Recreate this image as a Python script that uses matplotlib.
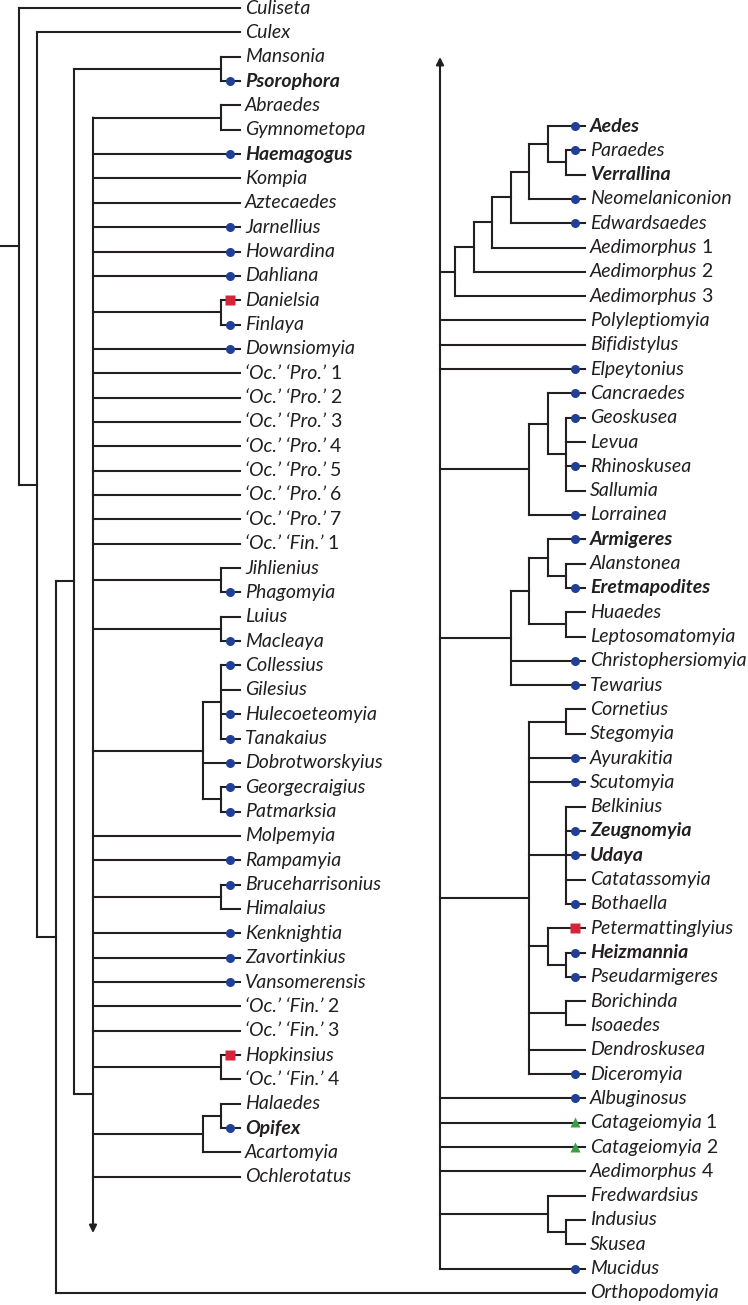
import matplotlib
matplotlib.use("Agg")
import matplotlib.pyplot as plt
from matplotlib.collections import LineCollection

plt.rcParams['font.family'] = ['Lato', 'DejaVu Sans']

# tree topology: the Aedini polytomy is split over two columns
AEDINI_LEFT = [
    ["Abraedes", "Gymnometopa"],
    "Haemagogus", "Kompia", "Aztecaedes", "Jarnellius", "Howardina", "Dahliana",
    ["Danielsia", "Finlaya"],
    "Downsiomyia",
    "‘Oc.’ ‘Pro.’ 1", "‘Oc.’ ‘Pro.’ 2", "‘Oc.’ ‘Pro.’ 3", "‘Oc.’ ‘Pro.’ 4",
    "‘Oc.’ ‘Pro.’ 5", "‘Oc.’ ‘Pro.’ 6", "‘Oc.’ ‘Pro.’ 7", "‘Oc.’ ‘Fin.’ 1",
    ["Jihlienius", "Phagomyia"],
    ["Luius", "Macleaya"],
    [["Collessius", "Gilesius", "Hulecoeteomyia", "Tanakaius"],
     "Dobrotworskyius", ["Georgecraigius", "Patmarksia"]],
    "Molpemyia", "Rampamyia",
    ["Bruceharrisonius", "Himalaius"],
    "Kenknightia", "Zavortinkius", "Vansomerensis", "‘Oc.’ ‘Fin.’ 2", "‘Oc.’ ‘Fin.’ 3",
    ["Hopkinsius", "‘Oc.’ ‘Fin.’ 4"],
    [["Halaedes", "Opifex"], "Acartomyia"],
    "Ochlerotatus",
]

AEDINI_RIGHT = [
    [[[[[["Aedes", ["Paraedes", "Verrallina"]], "Neomelaniconion"], "Edwardsaedes"],
        "Aedimorphus 1"], "Aedimorphus 2"], "Aedimorphus 3"],
    "Polyleptiomyia", "Bifidistylus", "Elpeytonius",
    [["Cancraedes", ["Geoskusea", "Levua", "Rhinoskusea", "Sallumia"]], "Lorrainea"],
    [[["Armigeres", ["Alanstonea", "Eretmapodites"]], ["Huaedes", "Leptosomatomyia"]],
     "Christophersiomyia", "Tewarius"],
    [["Cornetius", "Stegomyia"], "Ayurakitia", "Scutomyia",
     ["Belkinius", "Zeugnomyia", "Udaya", "Catatassomyia", "Bothaella"],
     ["Petermattinglyius", ["Heizmannia", "Pseudarmigeres"]],
     ["Borichinda", "Isoaedes"], "Dendroskusea", "Diceromyia"],
    "Albuginosus", "Catageiomyia 1", "Catageiomyia 2", "Aedimorphus 4",
    ["Fredwardsius", ["Indusius", "Skusea"]],
    "Mucidus",
]

TREE = ["Culiseta", ["Culex", [[["Mansonia", "Psorophora"], "AEDINI"], "Orthopodomyia"]]]

BLUE_DOT = {
    "Psorophora", "Haemagogus", "Jarnellius", "Howardina", "Dahliana", "Finlaya",
    "Downsiomyia", "Phagomyia", "Macleaya", "Collessius", "Hulecoeteomyia", "Tanakaius",
    "Dobrotworskyius", "Georgecraigius", "Patmarksia", "Rampamyia", "Bruceharrisonius",
    "Kenknightia", "Zavortinkius", "Vansomerensis", "Opifex",
    "Aedes", "Paraedes", "Neomelaniconion", "Edwardsaedes", "Elpeytonius", "Cancraedes",
    "Geoskusea", "Rhinoskusea", "Lorrainea", "Armigeres", "Eretmapodites",
    "Christophersiomyia", "Tewarius", "Ayurakitia", "Scutomyia", "Zeugnomyia", "Udaya",
    "Bothaella", "Heizmannia", "Pseudarmigeres", "Diceromyia", "Albuginosus", "Mucidus",
}
RED_SQUARE = {"Danielsia", "Hopkinsius", "Petermattinglyius"}
GREEN_TRIANGLE = {"Catageiomyia 1", "Catageiomyia 2"}
BOLD = {"Psorophora", "Haemagogus", "Opifex", "Aedes", "Verrallina", "Armigeres",
        "Eretmapodites", "Zeugnomyia", "Udaya", "Heizmannia"}

# layout (pixel units)
W, H = 748, 1305
LEFT_TOP, LEFT_STEP = 8, 24.35
RIGHT_TOP, RIGHT_STEP = 126, 24.31
LEFT_END, RIGHT_END = 240, 585
NODE_STEP = 18.5
BACK_STEP = 18.6
RIGHT_ROOT_X = 440
ARROW_TOP, ARROW_BOTTOM = 57, 1233
AEDINI_JOIN_ROW = 44.6   # where the polytomy hooks onto the backbone (left rows)
INK = '#231f20'
FS = 14


def leaves(node):
    if isinstance(node, str):
        return [node]
    out = []
    for c in node:
        out += leaves(c)
    return out


def height(node):
    if isinstance(node, str):
        return 0
    return 1 + max(height(c) for c in node)


left_names = ["Culiseta", "Culex", "Mansonia", "Psorophora"] + leaves(AEDINI_LEFT)
right_names = leaves(AEDINI_RIGHT) + ["Orthopodomyia"]
pos_y, pos_end = {}, {}
for i, n in enumerate(left_names):
    pos_y[n] = LEFT_TOP + i * LEFT_STEP
    pos_end[n] = LEFT_END
for j, n in enumerate(right_names):
    pos_y[n] = RIGHT_TOP + j * RIGHT_STEP
    pos_end[n] = RIGHT_END

segs = []


def place_clade(node, end):
    if isinstance(node, str):
        return pos_end[node], pos_y[node]
    kids = [place_clade(c, end) for c in node]
    x = end - NODE_STEP * height(node)
    segs.append([(x, kids[0][1]), (x, kids[-1][1])])
    for cx, cy in kids:
        segs.append([(x, cy), (cx, cy)])
    return x, (kids[0][1] + kids[-1][1]) / 2


fig = plt.figure(figsize=(W / 100, H / 100), dpi=100)
ax = fig.add_axes([0, 0, 1, 1])
ax.set_xlim(0, W)
ax.set_ylim(H, 0)
ax.axis('off')


def place_aedini(x):
    # left column part, continued downwards
    kids = [place_clade(c, LEFT_END) for c in AEDINI_LEFT]
    for cx, cy in kids:
        segs.append([(x, cy), (cx, cy)])
    ax.annotate('', xy=(x, ARROW_BOTTOM), xytext=(x, kids[0][1]),
                arrowprops=dict(arrowstyle='-|>', lw=1.5, color=INK,
                                mutation_scale=11, shrinkA=0, shrinkB=0))
    # right column part, continued upwards
    rk = [place_clade(c, RIGHT_END) for c in AEDINI_RIGHT]
    for cx, cy in rk:
        segs.append([(RIGHT_ROOT_X, cy), (cx, cy)])
    ax.annotate('', xy=(RIGHT_ROOT_X, ARROW_TOP), xytext=(RIGHT_ROOT_X, rk[-1][1]),
                arrowprops=dict(arrowstyle='-|>', lw=1.5, color=INK,
                                mutation_scale=11, shrinkA=0, shrinkB=0))
    return x, LEFT_TOP + AEDINI_JOIN_ROW * LEFT_STEP


def place(node, depth):
    if node == "AEDINI":
        return place_aedini(depth * BACK_STEP)
    if isinstance(node, str):
        return pos_end[node], pos_y[node]
    if "AEDINI" not in leaves(node):
        return place_clade(node, LEFT_END)
    kids = [place(c, depth + 1) for c in node]
    x = depth * BACK_STEP
    segs.append([(x, kids[0][1]), (x, kids[-1][1])])
    for cx, cy in kids:
        segs.append([(x, cy), (cx, cy)])
    return x, (kids[0][1] + kids[-1][1]) / 2


rx, ry = place(TREE, 1)
segs.append([(0, ry), (rx, ry)])

ax.add_collection(LineCollection(segs, colors=INK, linewidths=1.5,
                                 capstyle='projecting', joinstyle='miter'))

# markers and labels
fig.canvas.draw()
renderer = fig.canvas.get_renderer()
inv = ax.transData.inverted()
for n in left_names + right_names:
    end, y = pos_end[n], pos_y[n]
    if n in BLUE_DOT:
        ax.plot(end - 10, y, 'o', ms=6.5, color='#1f3f98', mec='none', zorder=3)
    elif n in RED_SQUARE:
        ax.plot(end - 10, y, 's', ms=6.5, color='#d6243a', mec='none', zorder=3)
    elif n in GREEN_TRIANGLE:
        ax.plot(end - 10, y - 0.5, '^', ms=6.5, color='#3a9f48', mec='none', zorder=3)
    parts = n.rsplit(' ', 1)
    weight = 'bold' if n in BOLD else 'normal'
    if len(parts) == 2 and parts[1].isdigit():
        t = ax.text(end + 5, y, parts[0], style='italic', fontsize=FS,
                    fontweight=weight, va='center', ha='left', color=INK)
        bb = t.get_window_extent(renderer)
        x1 = inv.transform((bb.x1, bb.y0))[0]
        ax.text(x1 + 4, y, parts[1], fontsize=FS, va='center', ha='left', color=INK)
    else:
        ax.text(end + 5, y, n, style='italic', fontsize=FS,
                fontweight=weight, va='center', ha='left', color=INK)

fig.savefig('out.png', dpi=100)
